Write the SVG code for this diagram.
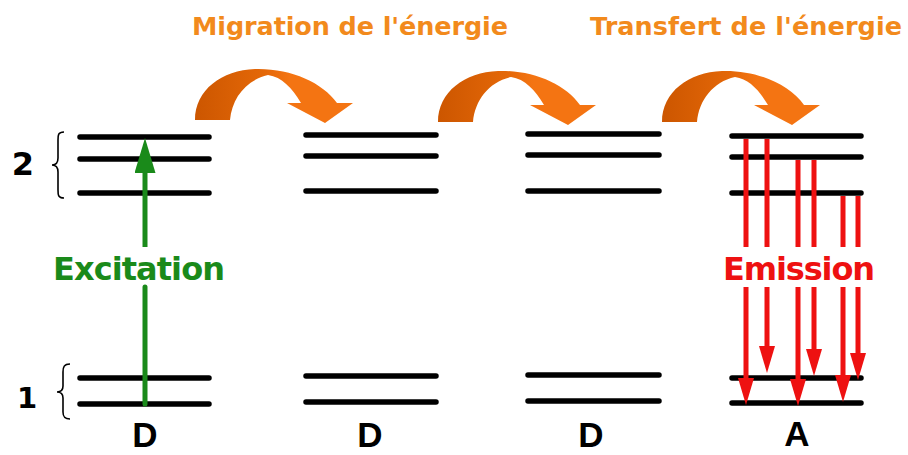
<svg xmlns="http://www.w3.org/2000/svg" width="908" height="455" viewBox="0 0 908 455">
  <style>
    .lvl { stroke: #000; stroke-width: 5.5; stroke-linecap: round; fill: none; }
    .title { font-family: "DejaVu Sans", Verdana, sans-serif; font-weight: bold; font-size: 25.5px; fill: #f28a1c; }
    .big { font-family: "DejaVu Sans", Verdana, sans-serif; font-weight: bold; font-size: 32px; }
    .num { font-family: "DejaVu Sans", Verdana, sans-serif; font-weight: bold; fill: #000; text-anchor: middle; }
    .letter { font-family: "Liberation Sans", Arial, sans-serif; font-weight: bold; font-size: 35px; fill: #000; text-anchor: middle; }
    .brace { stroke: #000; stroke-width: 1.6; fill: none; }
    .exc { stroke: #1a8a1a; stroke-width: 5; fill: none; }
    .emi { stroke: #ee1111; stroke-width: 5; fill: none; marker-end: url(#redHead); }
  </style>
  <defs>
    <linearGradient id="orangeGrad" x1="0" y1="0" x2="1" y2="0">
      <stop offset="0" stop-color="#cc5600"/>
      <stop offset="0.45" stop-color="#e56808"/>
      <stop offset="0.6" stop-color="#f47412"/>
      <stop offset="1" stop-color="#f47412"/>
    </linearGradient>
    <path id="curveArrow" d="M0,0 C0,-30 27,-50 60,-51 C95,-52 127,-38 142,-17 L158,-17 L130,3 L92,-17 L106,-17 C97,-32 87,-43 73,-45 C51,-40 37,-22 35,0 Z" fill="url(#orangeGrad)"/>
    <marker id="redHead" markerUnits="userSpaceOnUse" viewBox="0 0 27 16" markerWidth="27" markerHeight="16" refX="0" refY="8" orient="auto">
      <path d="M0,0 L27,8 L0,16 Z" fill="#ee1111"/>
    </marker>
    <marker id="greenHead" markerUnits="userSpaceOnUse" viewBox="0 0 35 21" markerWidth="35" markerHeight="21" refX="0" refY="10.5" orient="auto">
      <path d="M0,0 L35,10.5 L0,21 Z" fill="#1a8a1a"/>
    </marker>
  </defs>
  <rect width="908" height="455" fill="#fff"/>

  <g id="titles">
    <text class="title" x="192" y="35" textLength="316">Migration de l'énergie</text>
    <text class="title" x="590" y="35" textLength="312">Transfert de l'énergie</text>
  </g>

  <g id="level-labels">
    <text class="num" x="23" y="175" font-size="32">2</text>
    <path class="brace" d="M64,132 C58,132 58,135 58,140 L58,158 C58,162 56,165 52,165 C56,165 58,168 58,172 L58,190 C58,195 58,198 64,198"/>
    <text class="num" x="27" y="408" font-size="29">1</text>
    <path class="brace" d="M70,364 C64,364 63,367 63,372 L63,386 C63,390 61,392 57,392 C61,392 63,394 63,398 L63,412 C63,416 64,419 70,419"/>
  </g>

  <g id="D1">
    <path class="lvl" d="M80,137 H209 M80,159 H209 M80,193 H209 M80,378 H209 M80,404 H209"/>
    <text class="letter" x="145" y="447">D</text>
  </g>
  <g id="D2">
    <path class="lvl" d="M306,135 H436 M306,156 H436 M306,191 H436 M306,376 H436 M306,402 H436"/>
    <text class="letter" x="370" y="447">D</text>
  </g>
  <g id="D3">
    <path class="lvl" d="M528,134 H659 M528,155 H659 M528,191 H659 M528,375 H659 M528,401 H659"/>
    <text class="letter" x="591" y="447">D</text>
  </g>
  <g id="A">
    <path class="lvl" d="M732,136 H861 M732,157 H861 M732,193 H861 M732,378 H861 M732,403 H861"/>
    <text class="letter" x="797" y="446">A</text>
  </g>

  <g id="connectors">
    <use href="#curveArrow" transform="translate(195,120)"/>
    <use href="#curveArrow" transform="translate(438,122)"/>
    <use href="#curveArrow" transform="translate(662,122)"/>

    <g id="excitation">
      <path class="exc" d="M145,404 V287" stroke-linecap="round"/>
      <path class="exc" d="M145,247 V173" marker-end="url(#greenHead)"/>
    </g>

    <g id="emission">
      <path class="emi" d="M746,139 V247 M746,287 V378"/>
      <path class="emi" d="M767,139 V247 M767,287 V346"/>
      <path class="emi" d="M798,160 V247 M798,287 V379"/>
      <path class="emi" d="M814,160 V247 M814,287 V349"/>
      <path class="emi" d="M843,196 V247 M843,287 V375"/>
      <path class="emi" d="M858,196 V247 M858,287 V353"/>
    </g>
  </g>

  <g id="process-labels">
    <text class="big" x="53" y="280" textLength="172" fill="#1a8a1a">Excitation</text>
    <text class="big" x="723" y="280" textLength="152" fill="#ee1111">Emission</text>
  </g>
</svg>
